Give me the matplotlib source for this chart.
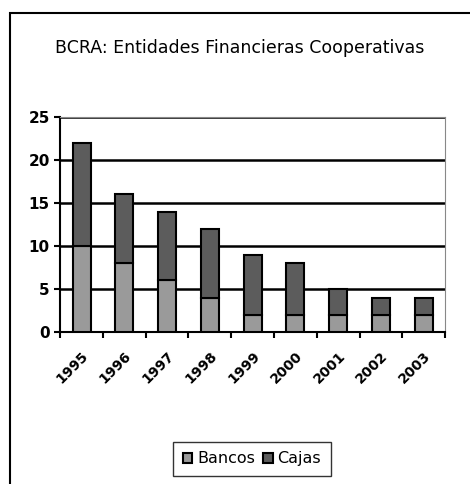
import numpy as np
import matplotlib
matplotlib.use("Agg")
import matplotlib.pyplot as plt
from matplotlib.patches import Rectangle

years = ["1995", "1996", "1997", "1998", "1999", "2000", "2001", "2002", "2003"]
bancos = [10, 8, 6, 4, 2, 2, 2, 2, 2]
cajas = [12, 8, 8, 8, 7, 6, 3, 2, 2]

plt.rcParams["font.family"] = ["DejaVu Sans"]

fig = plt.figure(figsize=(4.7, 4.84), dpi=100)
ax = fig.add_axes([0.128, 0.314, 0.819, 0.444])

# outer chart frame (cut off at right and bottom)
fig.patches.append(Rectangle((10 / 470, -0.1), 1.2, 1 - 13 / 484 + 0.1,
                             transform=fig.transFigure, fill=False,
                             edgecolor="black", linewidth=1.5))

x = np.arange(len(years))
ax.bar(x, bancos, width=0.42, color="#9a9a9a", edgecolor="black",
       linewidth=1.5, label="Bancos", zorder=3)
ax.bar(x, cajas, width=0.42, bottom=bancos, color="#5c5c5c",
       edgecolor="black", linewidth=1.5, label="Cajas", zorder=3)

ax.set_xlim(-0.5, len(years) - 0.5)
ax.set_ylim(0, 25)
ax.set_yticks([0, 5, 10, 15, 20, 25])
ax.yaxis.grid(True, color="black", linewidth=1.8, zorder=1)
ax.set_axisbelow(True)

ax.set_xticks(x)
ax.set_xticklabels(years, rotation=45, ha="right", rotation_mode="anchor",
                   fontsize=10, fontweight="bold")
ax.set_xticks(np.arange(len(years) + 1) - 0.5, minor=True)
ax.tick_params(axis="x", which="major", length=0, pad=12)
ax.tick_params(axis="x", which="minor", length=4, width=1.5)
ax.tick_params(axis="y", length=4, width=1.5, labelsize=11)
for lab in ax.get_yticklabels():
    lab.set_fontweight("bold")

for side in ["top", "right"]:
    ax.spines[side].set_color("#888888")
for side in ["left", "bottom"]:
    ax.spines[side].set_linewidth(1.5)

fig.text(0.51, 0.9, "BCRA: Entidades Financieras Cooperativas",
         ha="center", va="center", fontsize=12.5)

fig.legend(loc="center", bbox_to_anchor=(0.536, 0.052), ncol=2,
           frameon=True, fancybox=False, edgecolor="black",
           prop={"size": 11.5}, handlelength=0.6, handleheight=0.6,
           handletextpad=0.3, columnspacing=0.5, borderpad=0.6)

fig.savefig("out.png", dpi=100)
